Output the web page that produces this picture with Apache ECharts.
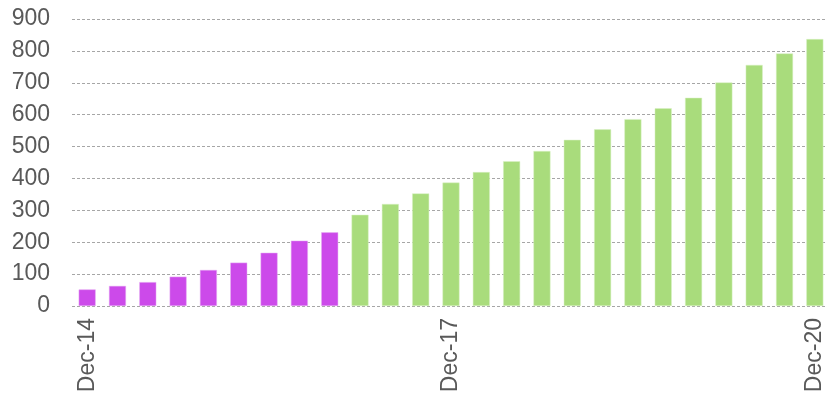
<!DOCTYPE html>
<html>
<head>
<meta charset="utf-8">
<script src="https://cdn.jsdelivr.net/npm/echarts@6/dist/echarts.min.js"></script>
<style>
  html, body { margin: 0; padding: 0; background: #fff; overflow: hidden; }
  /* a little wider than the window: the plot area runs past the right edge */
  #chart { width: 830px; height: 396px; }
</style>
</head>
<body>
<div id="chart"></div>
<script>
// quarterly, Dec-14 .. Dec-20
const categories = [
  'Dec-14', 'Mar-15', 'Jun-15', 'Sep-15', 'Dec-15', 'Mar-16', 'Jun-16', 'Sep-16', 'Dec-16',
  'Mar-17', 'Jun-17', 'Sep-17', 'Dec-17', 'Mar-18', 'Jun-18', 'Sep-18', 'Dec-18',
  'Mar-19', 'Jun-19', 'Sep-19', 'Dec-19', 'Mar-20', 'Jun-20', 'Sep-20', 'Dec-20'
]
const purpleValues = [52, 63, 75, 92, 113, 136, 167, 205, 231]
const greenValues = [286, 320, 353, 387, 420, 454, 486, 521, 554, 586, 620, 653, 701, 756, 792, 837]
const yTicks = [0, 100, 200, 300, 400, 500, 600, 700, 800, 900]

const purpleSeries = categories.map((c, i) => i < purpleValues.length ? purpleValues[i] : null)
const greenSeries = categories.map((c, i) => i >= purpleValues.length ? greenValues[i - purpleValues.length] : null)

const chart = echarts.init(document.getElementById('chart'))

chart.setOption({
  animation: false,
  grid: {
    left: 72,
    right: 0,
    top: 19,
    bottom: 90
  },
  xAxis: {
    type: 'category',
    data: categories,
    axisLine: { show: false },
    axisTick: { show: false },
    axisLabel: {
      interval: 11,
      rotate: 90,
      margin: 12,
      fontSize: 23,
      fontFamily: 'Liberation Sans',
      color: '#595959'
    }
  },
  yAxis: {
    type: 'value',
    min: yTicks[0],
    max: yTicks[yTicks.length - 1],
    interval: 100,
    axisLine: { show: false },
    axisTick: { show: false },
    axisLabel: {
      margin: 22,
      fontSize: 23,
      fontFamily: 'Liberation Sans',
      color: '#595959'
    },
    splitLine: {
      lineStyle: { color: '#a6a6a6', type: [3, 2], width: 1 }
    }
  },
  series: [{
    name: 'purple',
    type: 'bar',
    stack: 'total',
    barWidth: 17,
    data: purpleSeries,
    itemStyle: { color: '#cc4aea', borderColor: '#e6b3f3', borderWidth: 0.5 }
  }, {
    name: 'green',
    type: 'bar',
    stack: 'total',
    barWidth: 17,
    data: greenSeries,
    itemStyle: { color: '#a9dc7c', borderColor: '#d8f0c4', borderWidth: 0.5 }
  }]
})
</script>
</body>
</html>
